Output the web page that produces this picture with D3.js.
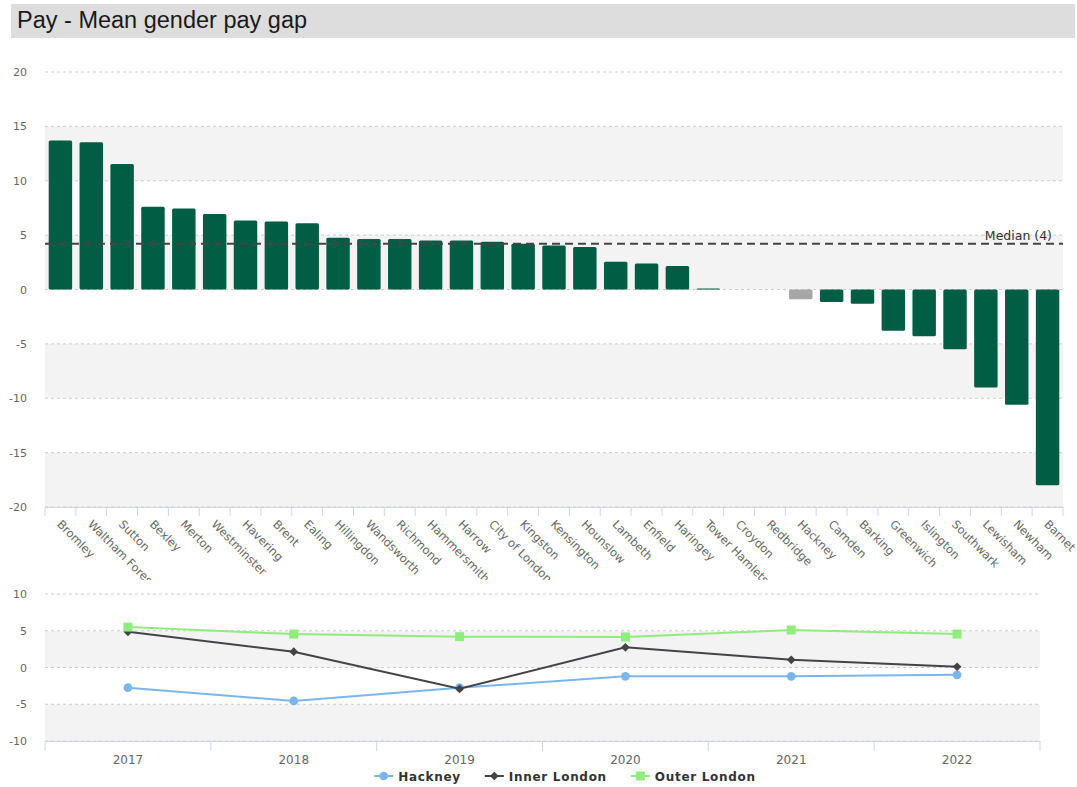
<!DOCTYPE html>
<html>
<head>
<meta charset="utf-8">
<script src="https://cdn.jsdelivr.net/npm/d3@7/dist/d3.min.js"></script>
<style>
body { margin: 0; background: #fff; }
svg { display: block; }
.tick-label { font-family: "DejaVu Sans", sans-serif; font-size: 11px; fill: #666; }
</style>
</head>
<body>
<svg width="1077" height="787"></svg>
<script>
var boroughs = ["Bromley", "Waltham Forest", "Sutton", "Bexley", "Merton", "Westminster", "Havering",
  "Brent", "Ealing", "Hillingdon", "Wandsworth", "Richmond", "Hammersmith", "Harrow", "City of London",
  "Kingston", "Kensington", "Hounslow", "Lambeth", "Enfield", "Haringey", "Tower Hamlets", "Croydon",
  "Redbridge", "Hackney", "Camden", "Barking", "Greenwich", "Islington", "Southwark", "Lewisham",
  "Newham", "Barnet"];
var payGap = [13.7, 13.55, 11.55, 7.6, 7.45, 6.95, 6.35, 6.25, 6.1, 4.75, 4.65, 4.65, 4.5, 4.5, 4.4,
  4.2, 4.05, 3.9, 2.55, 2.4, 2.15, 0.1, null, null, -0.9, -1.15, -1.3, -3.8, -4.3, -5.5, -9.0,
  -10.6, -18.0];
var highlight = "Hackney";
var topTicks = [-20, -15, -10, -5, 0, 5, 10, 15, 20];

var years = ["2017", "2018", "2019", "2020", "2021", "2022"];
var hackneyGap = [-2.75, -4.55, -2.75, -1.2, -1.2, -1.0];
var innerLondonGap = [4.85, 2.15, -2.9, 2.75, 1.05, 0.1];
var outerLondonGap = [5.5, 4.55, 4.2, 4.15, 5.1, 4.55];
var seriesNames = ["Hackney", "Inner London", "Outer London"];
var seriesColors = ["#7cb5ec", "#434348", "#90ed7d"];
var bottomTicks = [-10, -5, 0, 5, 10];

var svg = d3.select("svg");
var plain = function(d) { return String(d); };

// title bar
svg.append("rect")
  .attr("x", 11).attr("y", 4)
  .attr("width", 1064).attr("height", 34)
  .attr("fill", "#dddddd");
svg.append("text")
  .attr("x", 17).attr("y", 28)
  .style("font-family", "'Liberation Sans', Arial, sans-serif")
  .style("font-size", "23.5px")
  .style("fill", "#1a1a1a")
  .text("Pay - Mean gender pay gap");

// ---------- top bar chart ----------
var left = 45, right = 1063;
var xScale = d3.scaleBand().domain(boroughs).range([left, right]);
var yScale = d3.scaleLinear().domain([-20, 20]).range([507, 72]);

var topG = svg.append("g");

topG.selectAll(".band")
  .data(d3.pairs(topTicks))
  .enter()
  .append("rect")
  .attr("x", left)
  .attr("width", right - left)
  .attr("y", function(d) { return yScale(d[1]); })
  .attr("height", function(d) { return yScale(d[0]) - yScale(d[1]); })
  .attr("fill", function(d, i) { return i % 2 === 0 ? "#f3f3f3" : "#fff"; });

topG.selectAll(".grid")
  .data(topTicks)
  .enter()
  .append("line")
  .attr("x1", left).attr("x2", right)
  .attr("y1", function(d) { return yScale(d); })
  .attr("y2", function(d) { return yScale(d); })
  .attr("stroke", "#cccccc")
  .attr("stroke-dasharray", "3,3");

topG.append("g")
  .attr("transform", "translate(29,0)")
  .call(d3.axisLeft(yScale).tickValues(topTicks).tickFormat(plain).tickSize(0).tickPadding(2))
  .call(function(g) { g.select(".domain").remove(); })
  .selectAll("text")
  .attr("class", "tick-label");

// x axis
var xAxis = topG.append("g")
  .attr("transform", "translate(0,507)")
  .call(d3.axisBottom(xScale).tickSize(0).tickSizeOuter(0));
xAxis.select(".domain").attr("stroke", "#ccd6eb");
xAxis.selectAll("text")
  .attr("class", "tick-label")
  .style("font-size", "11.5px")
  .attr("x", 0).attr("y", 0).attr("dy", 0)
  .attr("text-anchor", "start")
  .attr("transform", "translate(-4,18) rotate(45)");

svg.append("clipPath")
  .attr("id", "labelClip")
  .append("rect")
  .attr("x", 0).attr("y", -2)
  .attr("width", 1077).attr("height", 75);
xAxis.attr("clip-path", "url(#labelClip)");

xAxis.selectAll(".edge")
  .data(boroughs.map(function(b) { return xScale(b); }).concat([right]))
  .enter()
  .append("line")
  .attr("x1", function(d) { return d; })
  .attr("x2", function(d) { return d; })
  .attr("y1", 0).attr("y2", 9)
  .attr("stroke", "#ccd6eb");

// bars
var barData = boroughs.map(function(b, i) { return { name: b, value: payGap[i] }; })
  .filter(function(d) { return d.value !== null; });
var barWidth = xScale.bandwidth() * 0.76;

topG.selectAll(".bar")
  .data(barData)
  .enter()
  .append("rect")
  .attr("class", "bar")
  .attr("x", function(d) { return xScale(d.name) + (xScale.bandwidth() - barWidth) / 2; })
  .attr("width", barWidth)
  .attr("y", function(d) { return yScale(Math.max(0, d.value)); })
  .attr("height", function(d) { return Math.max(1, Math.abs(yScale(d.value) - yScale(0))); })
  .attr("rx", 1.5)
  .attr("fill", function(d) { return d.name === highlight ? "#a6a6a6" : "#015e45"; });

// median line
var median = d3.median(payGap.filter(function(v) { return v !== null; }));
topG.append("line")
  .attr("x1", left).attr("x2", right)
  .attr("y1", yScale(median)).attr("y2", yScale(median))
  .attr("stroke", "#444")
  .attr("stroke-width", 2)
  .attr("stroke-dasharray", "8,5");
topG.append("text")
  .attr("x", right - 11)
  .attr("y", yScale(median) - 4)
  .attr("text-anchor", "end")
  .style("font-family", "'DejaVu Sans', sans-serif")
  .style("font-size", "12.5px")
  .style("fill", "#333")
  .text("Median (" + Math.round(median) + ")");

// ---------- bottom line chart ----------
var bLeft = 45, bRight = 1040;
var xYear = d3.scaleBand().domain(years).range([bLeft, bRight]);
var yBottom = d3.scaleLinear().domain([-10, 10]).range([741, 594]);

var bottomG = svg.append("g");

bottomG.selectAll(".band")
  .data(d3.pairs(bottomTicks))
  .enter()
  .append("rect")
  .attr("x", bLeft)
  .attr("width", bRight - bLeft)
  .attr("y", function(d) { return yBottom(d[1]); })
  .attr("height", function(d) { return yBottom(d[0]) - yBottom(d[1]); })
  .attr("fill", function(d, i) { return i % 2 === 0 ? "#f3f3f3" : "#fff"; });

bottomG.selectAll(".grid")
  .data(bottomTicks)
  .enter()
  .append("line")
  .attr("x1", bLeft).attr("x2", bRight)
  .attr("y1", function(d) { return yBottom(d); })
  .attr("y2", function(d) { return yBottom(d); })
  .attr("stroke", "#cccccc")
  .attr("stroke-dasharray", "3,3");

bottomG.append("g")
  .attr("transform", "translate(29,0)")
  .call(d3.axisLeft(yBottom).tickValues(bottomTicks).tickFormat(plain).tickSize(0).tickPadding(2))
  .call(function(g) { g.select(".domain").remove(); })
  .selectAll("text")
  .attr("class", "tick-label");

var yearAxis = bottomG.append("g")
  .attr("transform", "translate(0,741)")
  .call(d3.axisBottom(xYear).tickSize(0).tickSizeOuter(0).tickPadding(14));
yearAxis.select(".domain").attr("stroke", "#ccd6eb");
yearAxis.selectAll("text").attr("class", "tick-label").style("font-size", "12px");
yearAxis.selectAll(".edge")
  .data(years.map(function(y) { return xYear(y); }).concat([bRight]))
  .enter()
  .append("line")
  .attr("x1", function(d) { return d; })
  .attr("x2", function(d) { return d; })
  .attr("y1", 0).attr("y2", 10)
  .attr("stroke", "#ccd6eb");

var allSeries = [hackneyGap, innerLondonGap, outerLondonGap];
var symbols = [
  d3.symbol(d3.symbolCircle, 60),
  d3.symbol(d3.symbolSquare, 38),
  d3.symbol(d3.symbolSquare, 81)
];
var symbolRotate = [0, 45, 0];

var line = d3.line()
  .x(function(d, i) { return xYear(years[i]) + xYear.bandwidth() / 2; })
  .y(function(d) { return yBottom(d); });

allSeries.forEach(function(values, s) {
  bottomG.append("path")
    .datum(values)
    .attr("d", line)
    .attr("fill", "none")
    .attr("stroke", seriesColors[s])
    .attr("stroke-width", 2);
  bottomG.selectAll(".pt" + s)
    .data(values)
    .enter()
    .append("path")
    .attr("d", symbols[s])
    .attr("transform", function(d, i) {
      return "translate(" + (xYear(years[i]) + xYear.bandwidth() / 2) + "," + yBottom(d) + ") rotate(" + symbolRotate[s] + ")";
    })
    .attr("fill", seriesColors[s]);
});

// legend
var legend = svg.append("g");
var lx = 0;
seriesNames.forEach(function(name, s) {
  var item = legend.append("g");
  item.append("line")
    .attr("x1", 0).attr("x2", 19)
    .attr("y1", 0).attr("y2", 0)
    .attr("stroke", seriesColors[s])
    .attr("stroke-width", 2);
  item.append("path")
    .attr("d", symbols[s])
    .attr("transform", "translate(9.5,0) rotate(" + symbolRotate[s] + ")")
    .attr("fill", seriesColors[s]);
  var t = item.append("text")
    .attr("x", 24).attr("y", 4.5)
    .style("font-family", "'DejaVu Sans', sans-serif")
    .style("font-size", "12px")
    .style("font-weight", "bold")
    .style("letter-spacing", "0.7px")
    .style("fill", "#333")
    .text(name);
  item.attr("transform", "translate(" + lx + ",0)");
  lx += 24 + t.node().getComputedTextLength() + 24;
});
var legendWidth = lx - 24;
legend.attr("transform", "translate(" + (565 - legendWidth / 2) + ",776)");
</script>
</body>
</html>
